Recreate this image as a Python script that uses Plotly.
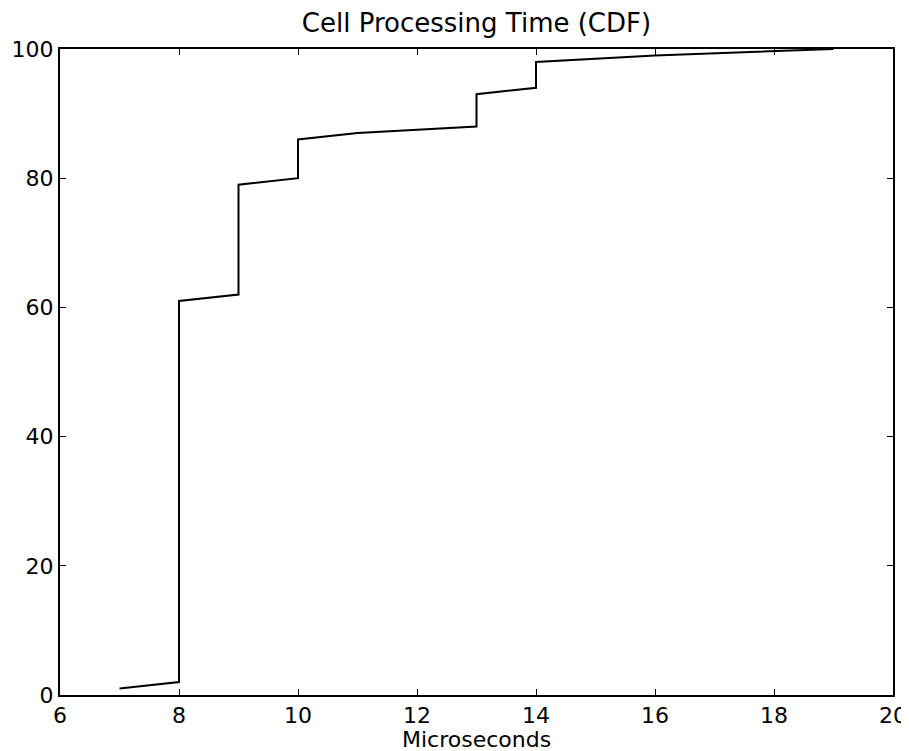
import plotly.graph_objects as go

x_vals = [7, 8, 8, 9, 9, 10, 10, 11, 13, 13, 14, 14, 16, 19]
y_vals = [1, 2, 61, 62, 79, 80, 86, 87, 88, 93, 94, 98, 99, 100]
x_ticks = [6, 8, 10, 12, 14, 16, 18, 20]
y_ticks = [0, 20, 40, 60, 80, 100]

fig = go.Figure()
fig.add_trace(go.Scatter(x=x_vals, y=y_vals, mode="lines",
                         line=dict(color="black", width=2), showlegend=False))

font = dict(family="DejaVu Sans", size=22, color="black")
axis_common = dict(showgrid=False, zeroline=False, showline=True, linecolor="black",
                   linewidth=2, mirror="allticks", ticks="inside", ticklen=6,
                   tickcolor="black", tickwidth=1, tickfont=font, automargin=False)

# the page adds an 8px body margin; figure is sized/offset to compensate
fig.update_layout(
    width=901, height=743,
    paper_bgcolor="white", plot_bgcolor="white",
    margin=dict(l=52, r=16, t=41, b=56),
    title=dict(text="Cell Processing Time (CDF)", x=0.5, xanchor="center",
               xref="paper", y=1 - 15 / 743, yanchor="middle",
               font=dict(family="DejaVu Sans", size=26, color="black")),
    xaxis=dict(range=[6, 20], tickvals=x_ticks, ticktext=[str(t) for t in x_ticks],
               **axis_common),
    yaxis=dict(range=[0, 100], tickvals=y_ticks, ticktext=[str(t) for t in y_ticks],
               **axis_common),
    annotations=[dict(text="Microseconds", x=0.5, xref="paper", y=0, yref="paper",
                      xanchor="center", yanchor="middle", yshift=-44,
                      showarrow=False, font=font)],
)

fig.write_html("out.html")
